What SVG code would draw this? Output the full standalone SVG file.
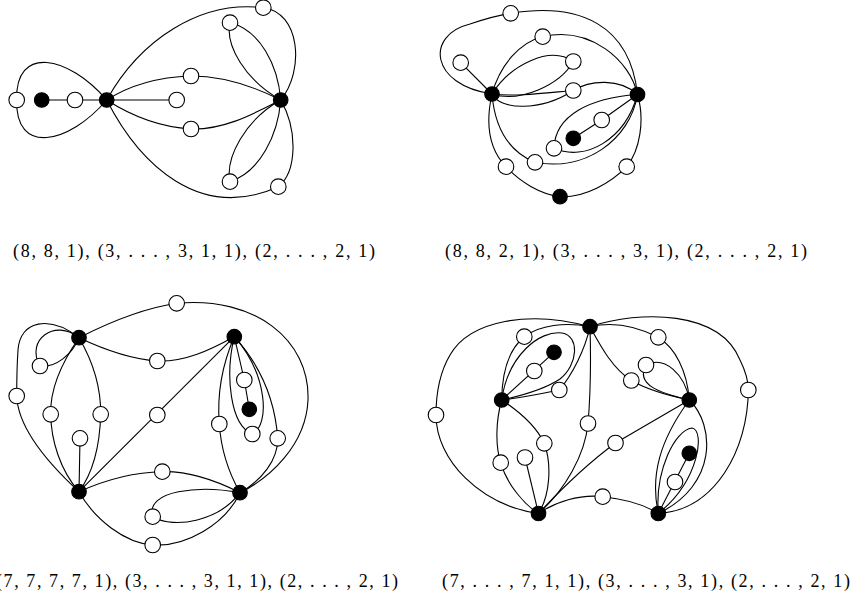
<svg xmlns="http://www.w3.org/2000/svg" width="853" height="612" viewBox="0 0 853 612">
<style>
.e{fill:none;stroke:#000;stroke-width:1.1}
.w{fill:#fff;stroke:#000;stroke-width:1.1}
.b{fill:#000;stroke:#000;stroke-width:1.1}
.lbl{font-family:"Liberation Serif","Times New Roman",serif;font-size:18px;fill:#000}
</style>
<rect width="853" height="612" fill="#fff"/>

<!-- Graph 1 -->
<g id="g1-edges">
<path class="e" d="M106.7,100 C68,55 15,45 16.7,100 C15,155 68,145 106.7,100"/>
<path class="e" d="M41.7,100 H176.7"/>
<path class="e" d="M106.7,100 C130,85 160,77 191,76 C225,76 255,87 280.7,100"/>
<path class="e" d="M106.7,100 C130,115 160,127 191,129 C225,130 255,113 280.7,100"/>
<path class="e" d="M106.7,100 C140,40 200,0 263.3,7.7 C300,12 305,70 280.7,100"/>
<path class="e" d="M106.7,100 C140,165 200,222 278.3,186.7 C297,172 298,130 280.7,100"/>
<path class="e" d="M280.7,100 C278,65 260,30 230,22.7 C225,45 245,80 280.7,100"/>
<path class="e" d="M280.7,100 C278,135 260,172 230,181.7 C225,158 245,120 280.7,100"/>
</g>
<g id="g1-n1"><circle class="w" cx="16.7" cy="100" r="7.8"/></g>
<g id="g1-n2"><circle class="b" cx="41.7" cy="100" r="7.3"/></g>
<g id="g1-n3"><circle class="w" cx="75" cy="100" r="7.8"/></g>
<g id="g1-A"><circle class="b" cx="106.7" cy="100" r="7.3"/></g>
<g id="g1-n5"><circle class="w" cx="176.7" cy="100" r="7.8"/></g>
<g id="g1-n6"><circle class="w" cx="191" cy="76" r="7.8"/></g>
<g id="g1-n7"><circle class="w" cx="191" cy="129" r="7.8"/></g>
<g id="g1-B"><circle class="b" cx="280.7" cy="100" r="7.3"/></g>
<g id="g1-n9"><circle class="w" cx="263.3" cy="7.7" r="7.8"/></g>
<g id="g1-n10"><circle class="w" cx="230" cy="22.7" r="7.8"/></g>
<g id="g1-n11"><circle class="w" cx="230" cy="181.7" r="7.8"/></g>
<g id="g1-n12"><circle class="w" cx="278.3" cy="186.7" r="7.8"/></g>

<!-- Graph 2 -->
<g id="g2-edges">
<path class="e" d="M492,94 L460.7,62.7"/>
<path class="e" d="M492,94 C430,85 425,35 470,24 C485,19 500,15 510.7,13.3 C580,2 630,25 637.5,94.5"/>
<path class="e" d="M492,94 C500,65 520,42 542.7,36.7 C590,26 630,60 637.5,94.5"/>
<path class="e" d="M492,94 C510,65 550,45 573.3,61.5 C560,85 520,103 492,94"/>
<path class="e" d="M492,94 C515,97 545,93 573.3,90.5"/>
<path class="e" d="M492,94 C500,110 540,112 573.3,90.5"/>
<path class="e" d="M573.3,90.5 C590,80 620,78 637.5,94.5"/>
<path class="e" d="M637.5,94.5 C590,98 555,115 554,148.3 C585,162 625,140 637.5,94.5"/>
<path class="e" d="M637.5,94.5 L601.7,120 L573.3,138.3"/>
<path class="e" d="M492,94 C485,125 490,150 506,166.7 C520,182 540,194 560,196.7 C585,198 612,182 626.7,166.7 C640,150 645,120 637.5,94.5"/>
<path class="e" d="M492,94 C495,130 510,152 535,162.3 C585,172 630,140 637.5,94.5"/>
</g>
<g id="g2-L"><circle class="b" cx="492" cy="94" r="7.3"/></g>
<g id="g2-R"><circle class="b" cx="637.5" cy="94.5" r="7.3"/></g>
<g id="g2-n1"><circle class="w" cx="510.7" cy="13.3" r="7.8"/></g>
<g id="g2-n2"><circle class="w" cx="460.7" cy="62.7" r="7.8"/></g>
<g id="g2-n3"><circle class="w" cx="542.7" cy="36.7" r="7.8"/></g>
<g id="g2-n4"><circle class="w" cx="573.3" cy="61.5" r="7.8"/></g>
<g id="g2-n5"><circle class="w" cx="573.3" cy="90.5" r="7.8"/></g>
<g id="g2-n6"><circle class="w" cx="601.7" cy="120" r="7.8"/></g>
<g id="g2-n7"><circle class="b" cx="573.3" cy="138.3" r="7.3"/></g>
<g id="g2-n8"><circle class="w" cx="554" cy="148.3" r="7.8"/></g>
<g id="g2-n9"><circle class="w" cx="535" cy="162.3" r="7.8"/></g>
<g id="g2-n10"><circle class="w" cx="506" cy="166.7" r="7.8"/></g>
<g id="g2-n11"><circle class="w" cx="626.7" cy="166.7" r="7.8"/></g>
<g id="g2-n12"><circle class="b" cx="560" cy="196.7" r="7.3"/></g>

<!-- Graph 3 -->
<g id="g3-edges">
<path class="e" d="M79,337.7 C110,322 145,308 176.7,303.3 C255,296 310,340 308,400 C306,445 270,478 240,492.7"/>
<path class="e" d="M79,337.7 C55,318 25,340 40,366 C55,368 72,355 79,337.7"/>
<path class="e" d="M79,337.7 C50,315 20,320 18,350 C17,365 16.7,380 16.7,396 C18,430 50,465 79,491.7"/>
<path class="e" d="M79,337.7 C60,365 50,390 50.7,414.3 C51,440 60,470 79,491.7"/>
<path class="e" d="M79,337.7 C95,365 101,390 100.7,414.3 C100,440 95,470 79,491.7"/>
<path class="e" d="M79,491.7 L80,438.3"/>
<path class="e" d="M79,337.7 C105,350 130,359 157.3,361 C185,362 210,350 234.3,336.7"/>
<path class="e" d="M79,491.7 L234.3,336.7"/>
<path class="e" d="M79,491.7 C105,480 135,472 162.3,471.7 C190,471 215,480 240,492.7"/>
<path class="e" d="M240,492.7 C200,485 145,490 152.7,516.7 C175,530 220,520 240,492.7"/>
<path class="e" d="M79,491.7 C95,520 125,543 152.7,545 C185,547 225,525 240,492.7"/>
<path class="e" d="M234.3,336.7 C222,365 217,395 219.3,424 C221,450 230,475 240,492.7"/>
<path class="e" d="M234.3,336.7 C260,365 275,400 277.7,438.3 C278,460 262,480 240,492.7"/>
<path class="e" d="M234.3,336.7 L244.3,380 L249.3,409.3"/>
<path class="e" d="M234.3,336.7 C225,375 230,425 252.3,434 C270,425 268,375 234.3,336.7"/>
</g>
<g id="g3-TL"><circle class="b" cx="79" cy="337.7" r="7.3"/></g>
<g id="g3-TR"><circle class="b" cx="234.3" cy="336.7" r="7.3"/></g>
<g id="g3-BL"><circle class="b" cx="79" cy="491.7" r="7.3"/></g>
<g id="g3-BR"><circle class="b" cx="240" cy="492.7" r="7.3"/></g>
<g id="g3-n1"><circle class="w" cx="176.7" cy="303.3" r="7.8"/></g>
<g id="g3-n2"><circle class="w" cx="40" cy="366" r="7.8"/></g>
<g id="g3-n3"><circle class="w" cx="16.7" cy="396" r="7.8"/></g>
<g id="g3-n4"><circle class="w" cx="50.7" cy="414.3" r="7.8"/></g>
<g id="g3-n5"><circle class="w" cx="100.7" cy="414.3" r="7.8"/></g>
<g id="g3-n6"><circle class="w" cx="80" cy="438.3" r="7.8"/></g>
<g id="g3-n7"><circle class="w" cx="157.3" cy="361" r="7.8"/></g>
<g id="g3-n8"><circle class="w" cx="157.3" cy="415" r="7.8"/></g>
<g id="g3-n9"><circle class="w" cx="244.3" cy="380" r="7.8"/></g>
<g id="g3-n10"><circle class="b" cx="249.3" cy="409.3" r="7.3"/></g>
<g id="g3-n11"><circle class="w" cx="219.3" cy="424" r="7.8"/></g>
<g id="g3-n12"><circle class="w" cx="252.3" cy="434" r="7.8"/></g>
<g id="g3-n13"><circle class="w" cx="277.7" cy="438.3" r="7.8"/></g>
<g id="g3-n14"><circle class="w" cx="162.3" cy="471.7" r="7.8"/></g>
<g id="g3-n15"><circle class="w" cx="152.7" cy="516.7" r="7.8"/></g>
<g id="g3-n16"><circle class="w" cx="152.7" cy="545" r="7.8"/></g>

<!-- Graph 4 -->
<g id="g4-edges">
<path class="e" d="M590,326.7 C530,310 470,320 450,355 C440,372 436,393 436,415 C436,460 480,505 538.5,513.5"/>
<path class="e" d="M590,326.7 C640,310 720,310 740,360 C745,370 748.3,380 748.3,390 C748,450 715,510 658.3,513.5"/>
<path class="e" d="M590,326.7 C565,322 540,325 524.3,336.7 C508,350 502,375 501.7,400"/>
<path class="e" d="M501.7,400 C508,355 540,330 562,333 C580,336 578,365 560,379 C545,389 520,396 501.7,400"/>
<path class="e" d="M501.7,400 L554,352.3"/>
<path class="e" d="M501.7,400 C520,398 540,394 559.3,390 C572,375 585,350 590,326.7"/>
<path class="e" d="M590,326.7 C591,360 590,400 588,423.5 C585,455 565,490 538.5,513.5"/>
<path class="e" d="M590,326.7 C600,345 612,368 631.3,380.5 C648,390 670,396 689.3,400"/>
<path class="e" d="M590,326.7 C615,321 640,328 658.3,337.3 C675,348 687,370 689.3,400"/>
<path class="e" d="M689.3,400 C660,393 635,385 646,365 C665,355 685,375 689.3,400"/>
<path class="e" d="M689.3,400 L615.5,443 C595,458 565,485 538.5,513.5"/>
<path class="e" d="M538.5,513.5 C555,502 580,494 602.7,496.7 C625,499 645,505 658.3,513.5"/>
<path class="e" d="M501.7,400 C496,420 495,445 500.7,462.7 C507,485 525,505 538.5,513.5"/>
<path class="e" d="M538.5,513.5 L525,457.5"/>
<path class="e" d="M501.7,400 C520,412 537,428 544.3,443.3 C552,465 550,495 538.5,513.5"/>
<path class="e" d="M658.3,513.5 C650,475 660,440 689.3,400"/>
<path class="e" d="M689.3,400 C715,425 718,485 658.3,513.5"/>
<path class="e" d="M658.3,513.5 C655,470 675,430 692,428 C705,430 700,480 658.3,513.5"/>
<path class="e" d="M658.3,513.5 L689.3,453.3"/>
</g>
<g id="g4-T"><circle class="b" cx="590" cy="326.7" r="7.3"/></g>
<g id="g4-L"><circle class="b" cx="501.7" cy="400" r="7.3"/></g>
<g id="g4-R"><circle class="b" cx="689.3" cy="400" r="7.3"/></g>
<g id="g4-BL"><circle class="b" cx="538.5" cy="513.5" r="7.3"/></g>
<g id="g4-BR"><circle class="b" cx="658.3" cy="513.5" r="7.3"/></g>
<g id="g4-n1"><circle class="w" cx="436" cy="415" r="7.8"/></g>
<g id="g4-n2"><circle class="w" cx="748.3" cy="390" r="7.8"/></g>
<g id="g4-n3"><circle class="w" cx="524.3" cy="336.7" r="7.8"/></g>
<g id="g4-n4"><circle class="b" cx="554" cy="352.3" r="7.3"/></g>
<g id="g4-n5"><circle class="w" cx="534.3" cy="371" r="7.8"/></g>
<g id="g4-n6"><circle class="w" cx="559.3" cy="390" r="7.8"/></g>
<g id="g4-n7"><circle class="w" cx="658.3" cy="337.3" r="7.8"/></g>
<g id="g4-n8"><circle class="w" cx="646" cy="365" r="7.8"/></g>
<g id="g4-n9"><circle class="w" cx="631.3" cy="380.5" r="7.8"/></g>
<g id="g4-n10"><circle class="w" cx="588" cy="423.5" r="7.8"/></g>
<g id="g4-n11"><circle class="w" cx="615.5" cy="443" r="7.8"/></g>
<g id="g4-n12"><circle class="w" cx="544.3" cy="443.3" r="7.8"/></g>
<g id="g4-n13"><circle class="w" cx="525" cy="457.5" r="7.8"/></g>
<g id="g4-n14"><circle class="w" cx="500.7" cy="462.7" r="7.8"/></g>
<g id="g4-n15"><circle class="w" cx="602.7" cy="496.7" r="7.8"/></g>
<g id="g4-n16"><circle class="b" cx="689.3" cy="453.3" r="7.3"/></g>
<g id="g4-n17"><circle class="w" cx="675" cy="482" r="7.8"/></g>

<!-- Labels -->
<g id="labels">
<text class="lbl" x="13" y="257" textLength="362" lengthAdjust="spacing">(8, 8, 1), (3, . . . , 3, 1, 1), (2, . . . , 2, 1)</text>
<text class="lbl" x="445" y="257" textLength="362" lengthAdjust="spacing">(8, 8, 2, 1), (3, . . . , 3, 1), (2, . . . , 2, 1)</text>
<text class="lbl" x="-4" y="587" textLength="402" lengthAdjust="spacing">(7, 7, 7, 7, 1), (3, . . . , 3, 1, 1), (2, . . . , 2, 1)</text>
<text class="lbl" x="442" y="587" textLength="408" lengthAdjust="spacing">(7, . . . , 7, 1, 1), (3, . . . , 3, 1), (2, . . . , 2, 1)</text>
</g>
</svg>
